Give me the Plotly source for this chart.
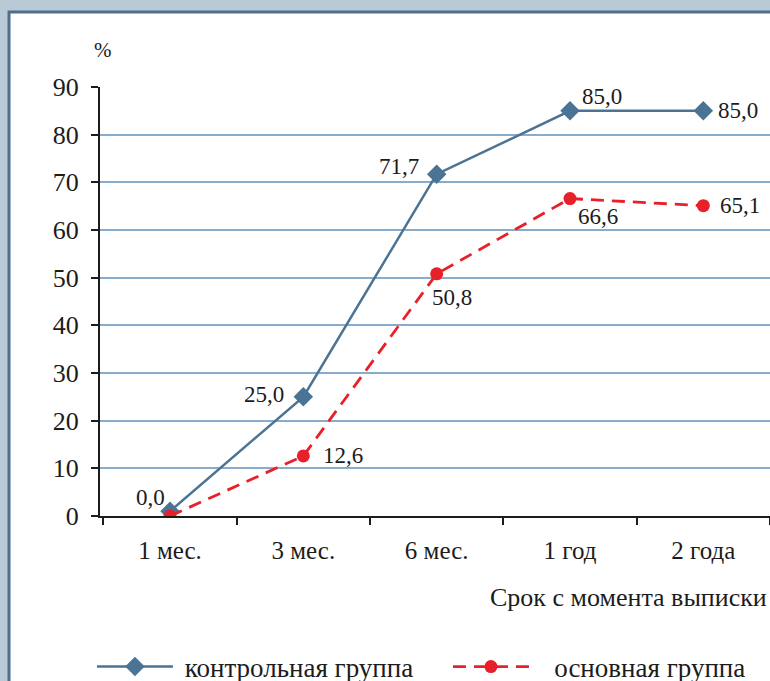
import plotly.graph_objects as go

categories = ["1 мес.", "3 мес.", "6 мес.", "1 год", "2 года"]
control = [1.0, 25.0, 71.7, 85.0, 85.0]
control_labels = ["0,0", "25,0", "71,7", "85,0", "85,0"]
main = [0.0, 12.6, 50.8, 66.6, 65.1]
main_labels = ["0,0", "12,6", "50,8", "66,6", "65,1"]
y_ticks = [0, 10, 20, 30, 40, 50, 60, 70, 80, 90]

BLUE = "#4b7494"
RED = "#e8202a"
FONT = "Liberation Serif"
TXT = "#1c1c1c"
NB = "\u00a0"

fig = go.Figure()
fig.add_trace(go.Scatter(
    x=categories, y=control, mode="lines+markers", name=NB + "контрольная группа",
    line=dict(color=BLUE, width=2.5),
    marker=dict(symbol="diamond", size=15, color=BLUE),
))
fig.add_trace(go.Scatter(
    x=categories, y=main, mode="lines+markers", name=NB * 3 + "основная группа",
    line=dict(color=RED, width=2.8, dash="13px,8px"),
    marker=dict(symbol="circle", size=13, color=RED),
))

ctrl_shift = [(-20, 14), (-39, 2), (-38, 8), (32, 14), (35, 0)]
main_shift = [None, (40, 0), (15, -24), (28, -18), (37, 0)]
ann = []
for i, c in enumerate(categories):
    dx, dy = ctrl_shift[i]
    ann.append(dict(x=c, y=control[i], text=control_labels[i], showarrow=False,
                    xshift=dx, yshift=dy, font=dict(family=FONT, size=23, color=TXT)))
    if main_shift[i] is not None:
        dx, dy = main_shift[i]
        ann.append(dict(x=c, y=main[i], text=main_labels[i], showarrow=False,
                        xshift=dx, yshift=dy, font=dict(family=FONT, size=23, color=TXT)))
ann.append(dict(xref="paper", yref="paper", x=0.005, y=1.086, text="%", showarrow=False,
                xanchor="center", yanchor="middle", font=dict(family=FONT, size=21, color=TXT)))
ann.append(dict(xref="paper", yref="paper", x=0.998, y=-0.189, text="Срок с момента выписки",
                showarrow=False, xanchor="right", yanchor="middle",
                font=dict(family=FONT, size=26, color=TXT)))

fig.update_layout(
    width=770, height=681,
    margin=dict(l=100, r=0, t=87, b=165, autoexpand=False),
    paper_bgcolor="#b9c9d5",
    plot_bgcolor="white",
    annotations=ann,
    showlegend=True,
    legend=dict(orientation="h", x=-0.012, y=-0.352, xanchor="left", yanchor="middle",
                font=dict(family=FONT, size=27, color=TXT), bgcolor="rgba(0,0,0,0)",
                itemwidth=76, entrywidth=265, entrywidthmode="pixels"),
    shapes=[dict(type="rect", xref="paper", yref="paper", x0=-0.1358, x1=1.02,
                 y0=-0.45, y1=1.1748, fillcolor="white",
                 line=dict(color="#4e6e8c", width=3), layer="below")],
)
fig.update_xaxes(
    type="category", range=[-0.525, 4.5], showgrid=False, showline=True, automargin=False,
    linecolor=TXT, linewidth=2, ticks="outside", ticklen=7, tickwidth=2, tickcolor=TXT,
    tickson="boundaries", tickfont=dict(family=FONT, size=25, color=TXT),
    ticklabelstandoff=11,
)
fig.update_yaxes(
    range=[0, 90], tickvals=y_ticks, showgrid=True, gridcolor="#8aaccc", gridwidth=1.5,
    showline=True, linecolor=TXT, linewidth=2, ticks="outside", ticklen=7, tickwidth=2,
    tickcolor=TXT, zeroline=False, automargin=False,
    tickfont=dict(family=FONT, size=26, color=TXT), ticklabelstandoff=7,
)
fig.write_html("out.html", config={"displayModeBar": False},
               post_script="document.body.style.margin='0';document.body.style.overflow='hidden';")
